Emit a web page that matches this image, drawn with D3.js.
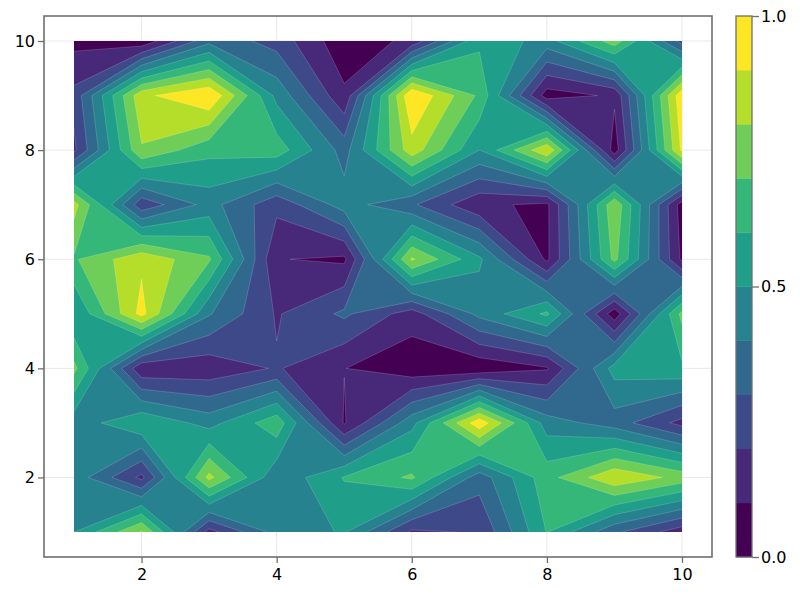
<!DOCTYPE html>
<html><head><meta charset="utf-8">
<script src="https://cdn.jsdelivr.net/npm/d3@7"></script>
<style>
html,body{margin:0;padding:0;background:#fff}
text{font-family:"DejaVu Sans",sans-serif;font-size:16px;fill:#000}
</style></head><body>
<svg id="c" width="800" height="600"></svg>
<script>
const xTicks=[2,4,6,8,10], yTicks=[2,4,6,8,10], barTicks=[0,0.5,1];
const levels=[0,0.1,0.2,0.3,0.4,0.5,0.6,0.7,0.8,0.9];
const row1=[.5,.81,.16,.44,.51,.18,.21,.605,.32,.14];
const row2=[.46,.175,.83,.42,.607,.717,.343,.662,.887,.765];
const row3=[.44,.59,.46,.666,.09,.465,.97,.45,.35,.167];
const row4=[.73,.12,.13,.21,.102,.03,.02,.09,.54,.58];
const row5=[.5,.935,.41,.19,.32,.15,.43,.62,.04,.73];
const row6=[.688,.88,.715,.105,.08,.815,.52,.08,.73,.08];
const row7=[.84,.23,.44,.23,.445,.315,.12,.08,.78,.05];
const row8=[.18,.79,.63,.655,.36,.86,.5,.89,.05,.92];
const row9=[.23,.875,1,.47,.12,1,.68,.05,.117,.976];
const row10=[.07,.02,.37,.26,.03,.127,.58,.457,.755,.26];
const rows=[row1,row2,row3,row4,row5,row6,row7,row8,row9,row10];

const svg=d3.select("#c");
const frame={l:44,r:712,t:16,b:557};
const x=d3.scaleLinear().domain([1-30/67.556,10+30/67.556]).range([frame.l,frame.r]);
const y=d3.scaleLinear().domain([1-25/54.556,10+25/54.556]).range([frame.b,frame.t]);
const colour=i=>d3.interpolateViridis(i/(levels.length-1));
const grey="#6f6f6f";

// grid
const g=svg.append("g").attr("stroke","#e8e8e8").attr("stroke-width",1);
g.selectAll(".gx").data(xTicks).join("line").attr("x1",d=>x(d)).attr("x2",d=>x(d)).attr("y1",frame.t).attr("y2",frame.b);
g.selectAll(".gy").data(yTicks).join("line").attr("y1",d=>y(d)).attr("y2",d=>y(d)).attr("x1",frame.l).attr("x2",frame.r);

// Filled contours: d3.contours cell by cell; a saddle cell is resolved by the cell's mean value.
const cell=d3.contours().size([2,2]).smooth(true);
function cellRings(a,b,c,d,t){
  const saddle=(a>=t)===(d>=t)&&(b>=t)===(c>=t)&&(a>=t)!==(b>=t);
  if(!saddle){
    const clamp=v=>Math.min(1,Math.max(0,v-0.5));
    return cell.contour([a,b,c,d],t).coordinates.flat().map(r=>r.map(p=>[clamp(p[0]),clamp(p[1])]));
  }
  const f=(u,v)=>(t-u)/(v-u);
  const top=[f(a,b),0], right=[1,f(b,d)], bottom=[f(c,d),1], left=[0,f(a,c)];
  const highMean=(a+b+c+d)/4>=t;
  if(a>=t){
    return highMean?[[[0,0],top,right,[1,1],bottom,left,[0,0]]]
                   :[[[0,0],top,left,[0,0]],[[1,1],bottom,right,[1,1]]];
  }
  return highMean?[[[1,0],right,bottom,[0,1],left,top,[1,0]]]
                 :[[[1,0],right,top,[1,0]],[[0,1],left,bottom,[0,1]]];
}
function levelShape(t){
  const fill=[], seams=[];
  for(let j=0;j<rows.length-1;j++)for(let i=0;i<rows[j].length-1;i++){
    const rings=cellRings(rows[j][i],rows[j][i+1],rows[j+1][i],rows[j+1][i+1],t);
    for(const pts of rings){
      const screen=pts.map(p=>[x(i+1+p[0]),y(j+1+p[1])]);
      fill.push(d3.line()(screen)+"Z");
      for(let k=1;k<pts.length;k++){
        const p=pts[k-1], q=pts[k];
        const onEdge=(p[0]===q[0]&&(p[0]===0||p[0]===1))||(p[1]===q[1]&&(p[1]===0||p[1]===1));
        if(!onEdge)seams.push(d3.line()([screen[k-1],screen[k]]));
      }
    }
  }
  return {fill:fill.join(""),seams:seams.join("")};
}
const shapes=levels.map(levelShape);
const bands=svg.append("g");
bands.selectAll("path.band").data(shapes).join("path").attr("class","band")
  .attr("d",d=>d.fill).attr("fill",(d,i)=>colour(i)).attr("stroke","none");
bands.selectAll("path.seam").data(shapes).join("path").attr("class","seam")
  .attr("d",d=>d.seams).attr("fill","none")
  .attr("stroke","#fff").attr("stroke-opacity",0.28).attr("stroke-width",0.6);

// frame
svg.append("rect").attr("x",frame.l).attr("y",frame.t).attr("width",frame.r-frame.l).attr("height",frame.b-frame.t)
  .attr("fill","none").attr("stroke",grey).attr("stroke-width",1.6);

function styleAxis(sel){
  sel.select(".domain").remove();
  sel.selectAll(".tick line").attr("stroke",grey).attr("stroke-width",1.3);
  sel.selectAll(".tick text").attr("fill","#000").style("font-family",'"DejaVu Sans",sans-serif').style("font-size","16px");
}
svg.append("g").attr("transform",`translate(0,${frame.b})`)
  .call(d3.axisBottom(x).tickValues(xTicks).tickFormat(d3.format("d")).tickSize(6).tickPadding(6)).call(styleAxis);
svg.append("g").attr("transform",`translate(${frame.l},0)`)
  .call(d3.axisLeft(y).tickValues(yTicks).tickFormat(d3.format("d")).tickSize(6).tickPadding(3)).call(styleAxis);

// colour bar
const bar={l:736,r:752};
const by=d3.scaleLinear().domain([0,1]).range([frame.b,frame.t]);
svg.append("g").selectAll("rect").data(levels).join("rect")
  .attr("x",bar.l).attr("width",bar.r-bar.l)
  .attr("y",d=>by(d+0.1)).attr("height",d=>by(d)-by(d+0.1)+0.3)
  .attr("fill",(d,i)=>colour(i));
svg.append("rect").attr("x",bar.l).attr("y",frame.t).attr("width",bar.r-bar.l).attr("height",frame.b-frame.t)
  .attr("fill","none").attr("stroke",grey).attr("stroke-width",1.3);
svg.append("g").attr("transform",`translate(${bar.r},0)`)
  .call(d3.axisRight(by).tickValues(barTicks).tickFormat(d3.format(".1f")).tickSize(7).tickPadding(2)).call(styleAxis);
</script></body></html>
